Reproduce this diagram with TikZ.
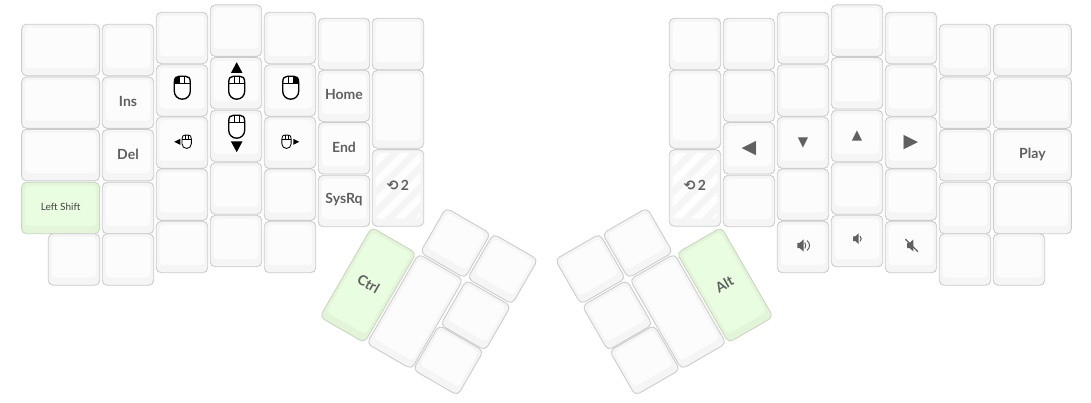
\documentclass[tikz,border=0pt]{standalone}
\usepackage{fontspec}
\setmainfont{Lato}
\newfontfamily\dvfont{DejaVu Sans}
\definecolor{keyedge}{HTML}{CCCCCC}
\definecolor{keyside}{HTML}{F5F5F5}
\definecolor{keytop}{HTML}{FCFCFC}
\definecolor{greenedge}{HTML}{C9D6C1}
\definecolor{greenside}{HTML}{E3F5D9}
\definecolor{greentop}{HTML}{E9FDE1}
\definecolor{labelgray}{HTML}{606060}
\definecolor{shiftgray}{HTML}{444444}
\tikzset{
  keybase/.style={rectangle,inner sep=0pt,outer sep=0pt,align=center},
  keyouter/.style={keybase,draw=keyedge,fill=keyside,line width=.9pt,rounded corners=5pt},
  keyinner/.style={keybase,fill=keytop,rounded corners=4pt,text=labelgray,font=\fontsize{14}{14}\selectfont\bfseries},
  greenouter/.style={keybase,draw=greenedge,fill=greenside,line width=.9pt,rounded corners=5pt},
  greeninner/.style={keybase,fill=greentop,rounded corners=4pt,text=labelgray,font=\fontsize{14}{14}\selectfont\bfseries},
  hatchinner/.style={keyinner,fill=keyside,path picture={
    \begin{scope}[shift={(path picture bounding box.center)}]
      \foreach \s in {-80,-60,...,80}{
        \draw[keytop!40!white,line width=7pt] (\s-50,50) -- (\s+50,-50);
      }
    \end{scope}}},
  iconline/.style={black,line width=1.35pt,fill=white,line join=round},
  smallicon/.style={black,line width=.85pt,fill=white,line join=round},
}
\newcommand\lift[2]{\raisebox{#1}[\height][\depth]{#2}}
% outer style, inner style, name, cx, cy, w, h, angle, text
\newcommand\kkbase[9]{%
  \node[#1,rotate=#8,minimum width=#6pt,minimum height=#7pt] (#3) at (#4,#5) {};
  \pgfmathsetmacro\ix{#4-sin(#8)*2.2}%
  \pgfmathsetmacro\iy{#5-cos(#8)*2.2}%
  \pgfmathsetmacro\iw{#6-6.6}%
  \pgfmathsetmacro\ih{#7-11}%
  \node[#2,rotate=#8,minimum width=\iw pt,minimum height=\ih pt] (#3t) at (\ix,\iy) {\lift{-1pt}{#9}};
}
\newcommand\kk{\kkbase{keyouter}{keyinner}}
\newcommand\gk{\kkbase{greenouter}{greeninner}}
\newcommand\hk{\kkbase{keyouter}{hatchinner}}
% glyph helpers
\newcommand\bigglyph[1]{\lift{-1pt}{\dvfont\fontsize{19}{19}\selectfont\mdseries\char"#1}}
\newcommand\smallglyph[1]{\lift{-1pt}{\dvfont\fontsize{13.5}{14}\selectfont\mdseries\char"#1}}
% mouse body: style, cx, cy, scale, button (-1 left, 1 right, 0 none)
\newcommand\mousebody[5]{%
  \begin{scope}[shift={(#2,#3)},scale=#4]
    \draw[#1] (-8,-5) .. controls (-8,-10) and (-6,-11.5) .. (-3,-11.5) -- (3,-11.5)
      .. controls (6,-11.5) and (8,-10) .. (8,-5) -- (8,3.5)
      .. controls (8,8) and (4.5,11.5) .. (0,11.5)
      .. controls (-4.5,11.5) and (-8,8) .. (-8,3.5) -- cycle;
    \ifnum#5=-1
      \fill[black] (-8,-4) -- (-8,-5) .. controls (-8,-10) and (-6,-11.5) .. (-3,-11.5) -- (-2.5,-11.5) -- (-2.5,-4) -- cycle;
    \fi
    \ifnum#5=1
      \fill[black] (8,-4) -- (8,-5) .. controls (8,-10) and (6,-11.5) .. (3,-11.5) -- (2.5,-11.5) -- (2.5,-4) -- cycle;
    \fi
    \draw[#1,fill=none] (-8,-4) -- (8,-4) (-2.5,-11.5) -- (-2.5,-4) (2.5,-11.5) -- (2.5,-4);
  \end{scope}}
\newcommand\speaker[3]{%
  \begin{scope}[shift={(#1,#2)},scale=#3]
    \fill[labelgray] (-5,-2.6) -- (-2.6,-2.6) -- (1.2,-6) -- (1.2,6) -- (-2.6,2.6) -- (-5,2.6) -- cycle;
  \end{scope}}
\begin{document}
\begin{tikzpicture}[x=1pt,y=-1pt]
\useasboundingbox[fill=white] (0,0) rectangle (1091,403);
% left half
\kk{a1}{60.6}{50}{78}{51.5}{0}{}
\kk{a2}{60.6}{102.7}{78}{51.5}{0}{}
\kk{a3}{60.6}{155.2}{78}{51.5}{0}{}
\gk{a4}{60.6}{208}{78}{51.5}{0}{\fontsize{10}{10}\selectfont\mdseries\color{shiftgray}Left Shift}
\kk{a5}{74}{259.5}{51.5}{51.5}{0}{}
\kk{b1}{128}{50}{51.5}{51.5}{0}{}
\kk{b2}{128}{102.7}{51.5}{51.5}{0}{Ins}
\kk{b3}{128}{155.2}{51.5}{51.5}{0}{Del}
\kk{b4}{128}{208}{51.5}{51.5}{0}{}
\kk{b5}{128}{259.5}{51.5}{51.5}{0}{}
\kk{c1}{182}{38}{51.5}{51.5}{0}{}
\kk{c2}{182}{90.5}{51.5}{51.5}{0}{}
\kk{c3}{182}{142.7}{51.5}{51.5}{0}{}
\kk{c4}{182}{194.7}{51.5}{51.5}{0}{}
\kk{c5}{182}{247}{51.5}{51.5}{0}{}
\kk{d1}{236}{30.7}{51.5}{51.5}{0}{}
\kk{d2}{236}{83.3}{51.5}{51.5}{0}{}
\kk{d3}{236}{136}{51.5}{51.5}{0}{}
\kk{d4}{236}{188.5}{51.5}{51.5}{0}{}
\kk{d5}{236}{241}{51.5}{51.5}{0}{}
\kk{e1}{290}{38}{51.5}{51.5}{0}{}
\kk{e2}{290}{90.5}{51.5}{51.5}{0}{}
\kk{e3}{290}{142.7}{51.5}{51.5}{0}{}
\kk{e4}{290}{194.7}{51.5}{51.5}{0}{}
\kk{e5}{290}{247}{51.5}{51.5}{0}{}
\kk{f1}{344}{44}{51.5}{51.5}{0}{}
\kk{f2}{344}{96}{51.5}{51.5}{0}{Home}
\kk{f3}{344}{148.3}{51.5}{51.5}{0}{End}
\kk{f4}{344}{201}{51.5}{51.5}{0}{SysRq}
\kk{g1}{398}{44}{51.5}{51.5}{0}{}
\kk{g2}{398}{109.3}{51.5}{78}{0}{}
\hk{g3}{398}{188}{51.5}{76.6}{0}{\lift{1.5pt}{{\dvfont\char"27F2}\,2}}
% left thumb
\gk{t1}{368}{285}{51.5}{103.5}{-30}{Ctrl}
\kk{t2}{415}{311.5}{51.5}{103.5}{-30}{}
\kk{t3}{455.4}{243}{51.5}{51.5}{-30}{}
\kk{t4}{502.7}{269}{51.5}{51.5}{-30}{}
\kk{t5}{475.7}{315.3}{51.5}{51.5}{-30}{}
\kk{t6}{448.3}{360.3}{51.5}{51.5}{-30}{}
% right half
\kk{A1}{1032.4}{50}{78}{51.5}{0}{}
\kk{A2}{1032.4}{102.7}{78}{51.5}{0}{}
\kk{A3}{1032.4}{155.2}{78}{51.5}{0}{Play}
\kk{A4}{1032.4}{208}{78}{51.5}{0}{}
\kk{A5}{1019}{259.5}{51.5}{51.5}{0}{}
\kk{B1}{965}{50}{51.5}{51.5}{0}{}
\kk{B2}{965}{102.7}{51.5}{51.5}{0}{}
\kk{B3}{965}{155.2}{51.5}{51.5}{0}{}
\kk{B4}{965}{208}{51.5}{51.5}{0}{}
\kk{B5}{965}{259.5}{51.5}{51.5}{0}{}
\kk{C1}{911}{38}{51.5}{51.5}{0}{}
\kk{C2}{911}{90.5}{51.5}{51.5}{0}{}
\kk{C3}{911}{142.7}{51.5}{51.5}{0}{\bigglyph{25B6}}
\kk{C4}{911}{194.7}{51.5}{51.5}{0}{}
\kk{C5}{911}{247}{51.5}{51.5}{0}{}
\kk{D1}{857}{30.7}{51.5}{51.5}{0}{}
\kk{D2}{857}{83.3}{51.5}{51.5}{0}{}
\kk{D3}{857}{136}{51.5}{51.5}{0}{\smallglyph{25B2}}
\kk{D4}{857}{188.5}{51.5}{51.5}{0}{}
\kk{D5}{857}{241}{51.5}{51.5}{0}{}
\kk{E1}{803}{38}{51.5}{51.5}{0}{}
\kk{E2}{803}{90.5}{51.5}{51.5}{0}{}
\kk{E3}{803}{142.7}{51.5}{51.5}{0}{\smallglyph{25BC}}
\kk{E4}{803}{194.7}{51.5}{51.5}{0}{}
\kk{E5}{803}{247}{51.5}{51.5}{0}{}
\kk{F1}{749}{44}{51.5}{51.5}{0}{}
\kk{F2}{749}{96}{51.5}{51.5}{0}{}
\kk{F3}{749}{148.3}{51.5}{51.5}{0}{\bigglyph{25C0}}
\kk{F4}{749}{201}{51.5}{51.5}{0}{}
\kk{G1}{695}{44}{51.5}{51.5}{0}{}
\kk{G2}{695}{109.3}{51.5}{78}{0}{}
\hk{G3}{695}{188}{51.5}{76.6}{0}{\lift{1.5pt}{{\dvfont\char"27F2}\,2}}
% right thumb
\gk{T1}{725}{285}{51.5}{103.5}{30}{Alt}
\kk{T2}{678}{311.5}{51.5}{103.5}{30}{}
\kk{T3}{637.6}{243}{51.5}{51.5}{30}{}
\kk{T4}{590.3}{269}{51.5}{51.5}{30}{}
\kk{T5}{617.3}{315.3}{51.5}{51.5}{30}{}
\kk{T6}{644.7}{360.3}{51.5}{51.5}{30}{}
% mouse icons
\mousebody{iconline}{182.3}{87.7}{1}{-1}
\mousebody{iconline}{290.7}{87.7}{1}{1}
\mousebody{iconline}{236.7}{87.7}{1}{0}
\fill[black] (230.9,73) -- (236.7,62.2) -- (242.5,73) -- cycle;
\mousebody{iconline}{236.7}{126.7}{1}{0}
\fill[black] (230.9,141.4) -- (236.7,152.2) -- (242.5,141.4) -- cycle;
\mousebody{smallicon}{186.7}{141.8}{.58}{0}
\fill[black] (180.3,138.8) -- (174.2,141.8) -- (180.3,144.8) -- cycle;
\mousebody{smallicon}{286.5}{141.8}{.58}{0}
\fill[black] (293.3,138.8) -- (299.3,141.8) -- (293.3,144.8) -- cycle;
% volume icons
\speaker{802.3}{245.5}{1}
\draw[labelgray,line width=1pt] (804.8,242.5) .. controls (806,244.5) and (806,246.5) .. (804.8,248.5);
\draw[labelgray,line width=1pt] (807,240.5) .. controls (810.4,243.5) and (810.4,247.5) .. (807,250.5);
\speaker{857.6}{238.7}{.9}
\draw[labelgray,line width=1pt] (860,236) .. controls (861.6,237.5) and (861.6,240) .. (860,241.5);
\speaker{912.2}{245.5}{1}
\draw[labelgray,line width=1.2pt] (905.5,239.2) -- (918,251.7);
\end{tikzpicture}
\end{document}
